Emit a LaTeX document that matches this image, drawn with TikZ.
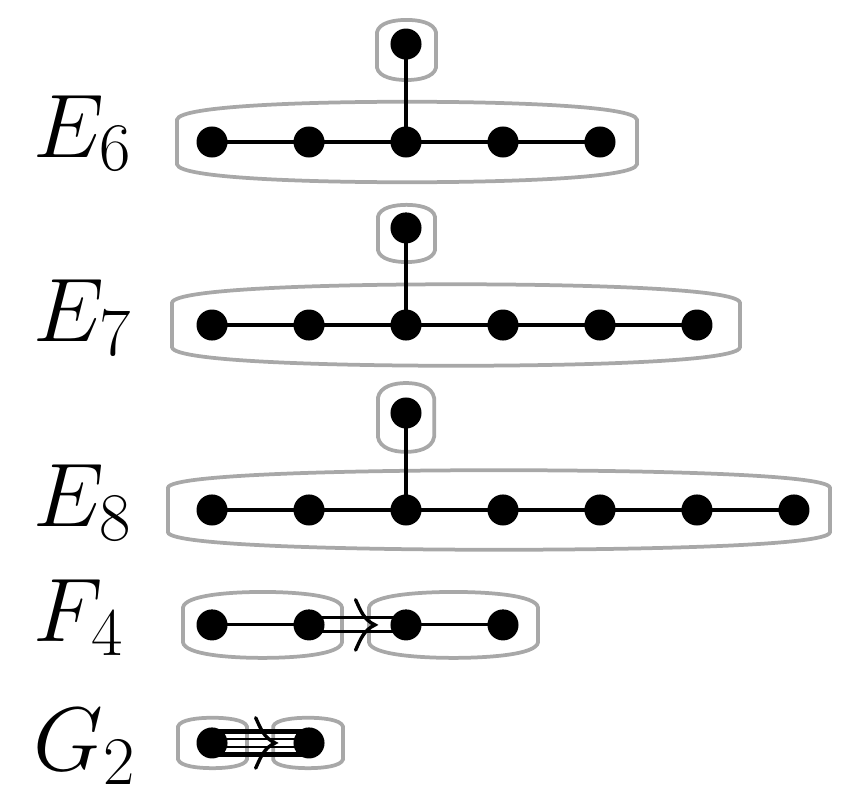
\RequirePackage{fix-cm}
\documentclass[tikz,border=0pt]{standalone}
\usetikzlibrary{calc}
\DeclareMathSizes{26.5}{26.5}{20}{15}
\definecolor{hullc}{gray}{0.66}
\tikzset{
  dot/.style={circle, fill=black, inner sep=0pt, minimum size=0.32cm},
  bond/.style={line width=0.9pt},
  thinbond/.style={line width=0.6pt},
  fatbond/.style={line width=1.3pt},
  hull/.style={draw=hullc, line width=1.1pt},
  chev/.style={line width=1pt, line cap=round},
  lbl/.style={anchor=base west, inner sep=0pt, font=\fontsize{26.5}{30}\selectfont},
}
% x1, x2, row, half side, bulge
\newcommand{\hull}[5]{%
  \draw[hull] ({#1},{(#3)-(#4)}) -- ({#1},{(#3)+(#4)})
    .. controls ({(#1)+0.02},{(#3)+(#4)+0.8*(#5)}) and ({(#1)+0.3*((#2)-(#1))},{(#3)+(#4)+(#5)}) .. ({0.5*((#1)+(#2))},{(#3)+(#4)+(#5)})
    .. controls ({(#2)-0.3*((#2)-(#1))},{(#3)+(#4)+(#5)}) and ({(#2)-0.02},{(#3)+(#4)+0.8*(#5)}) .. ({#2},{(#3)+(#4)})
    -- ({#2},{(#3)-(#4)})
    .. controls ({(#2)-0.02},{(#3)-(#4)-0.8*(#5)}) and ({(#2)-0.3*((#2)-(#1))},{(#3)-(#4)-(#5)}) .. ({0.5*((#1)+(#2))},{(#3)-(#4)-(#5)})
    .. controls ({(#1)+0.3*((#2)-(#1))},{(#3)-(#4)-(#5)}) and ({(#1)+0.02},{(#3)-(#4)-0.8*(#5)}) .. ({#1},{(#3)-(#4)})
    -- cycle;}
\newcommand{\row}[3]{\foreach \i in {0,...,#2} \coordinate (#1-\i) at (\i,#3);}
\newcommand{\links}[2]{\foreach \i [count=\j from 1] in {0,...,#2} \draw[bond] (#1-\i) -- (#1-\j);}
\newcommand{\putdots}[2]{\foreach \i in {0,...,#2} \node[dot] (d#1-\i) at (#1-\i) {};}
\newcommand{\chevron}[1]{%
  \draw[chev] (#1) ++(-0.2,0.26) to[out=-65,in=155] (#1) to[out=-155,in=65] ++(-0.2,-0.26);}

\begin{document}
\begin{tikzpicture}
  \useasboundingbox (-2.186,0) rectangle (6.485,-8.34);
  % rows
  \row{E6}{4}{-1.464} \coordinate (E6-t) at (2,-0.454);
  \row{E7}{5}{-3.351} \coordinate (E7-t) at (2,-2.35);
  \row{E8}{6}{-5.258} \coordinate (E8-t) at (2,-4.258);
  \row{F4}{3}{-6.443}
  \row{G2}{1}{-7.66}
  % groupings
  \hull{-0.361}{4.381}{-1.464}{0.23}{0.185}
  \hull{1.70}{2.31}{-0.515}{0.18}{0.13}
  \hull{-0.412}{5.443}{-3.351}{0.23}{0.19}
  \hull{1.71}{2.30}{-2.407}{0.17}{0.125}
  \hull{-0.454}{6.371}{-5.258}{0.23}{0.18}
  \hull{1.71}{2.29}{-4.304}{0.2}{0.155}
  \hull{-0.299}{1.340}{-6.443}{0.18}{0.16}
  \hull{1.619}{3.361}{-6.443}{0.18}{0.16}
  \hull{-0.35}{0.36}{-7.66}{0.17}{0.09}
  \hull{0.63}{1.35}{-7.66}{0.17}{0.09}
  % simple links
  \links{E6}{3} \draw[bond] (E6-2) -- (E6-t);
  \links{E7}{4} \draw[bond] (E7-2) -- (E7-t);
  \links{E8}{5} \draw[bond] (E8-2) -- (E8-t);
  \draw[bond] (F4-0) -- (F4-1);
  \draw[bond] (F4-2) -- (F4-3);
  % double link
  \draw[bond] ([yshift=2.05pt]F4-1) -- ([yshift=2.05pt]F4-2);
  \draw[bond] ([yshift=-2.05pt]F4-1) -- ([yshift=-2.05pt]F4-2);
  \coordinate (F4tip) at ($(F4-1)!0.68!(F4-2)$);
  \chevron{F4tip}
  % triple link
  \draw[fatbond] ([yshift=3.35pt]G2-0) -- ([yshift=3.35pt]G2-1);
  \draw[thinbond] ([yshift=1.3pt]G2-0) -- ([yshift=1.3pt]G2-1);
  \draw[thinbond] ([yshift=-1.3pt]G2-0) -- ([yshift=-1.3pt]G2-1);
  \draw[fatbond] ([yshift=-3.35pt]G2-0) -- ([yshift=-3.35pt]G2-1);
  \coordinate (G2tip) at ($(G2-0)!0.65!(G2-1)$);
  \chevron{G2tip}
  % dots
  \putdots{E6}{4} \node[dot] (dE6-t) at (E6-t) {};
  \putdots{E7}{5} \node[dot] (dE7-t) at (E7-t) {};
  \putdots{E8}{6} \node[dot] (dE8-t) at (E8-t) {};
  \putdots{F4}{3}
  \putdots{G2}{1}
  % names
  \node[lbl] (lE6) at (-1.845,-1.619) {$E_6$};
  \node[lbl] (lE7) at (-1.845,-3.526) {$E_7$};
  \node[lbl] (lE8) at (-1.845,-5.433) {$E_8$};
  \node[lbl] (lF4) at (-1.845,-6.619) {$F_4$};
  \node[lbl] (lG2) at (-1.845,-7.948) {$G_2$};
\end{tikzpicture}
\end{document}
